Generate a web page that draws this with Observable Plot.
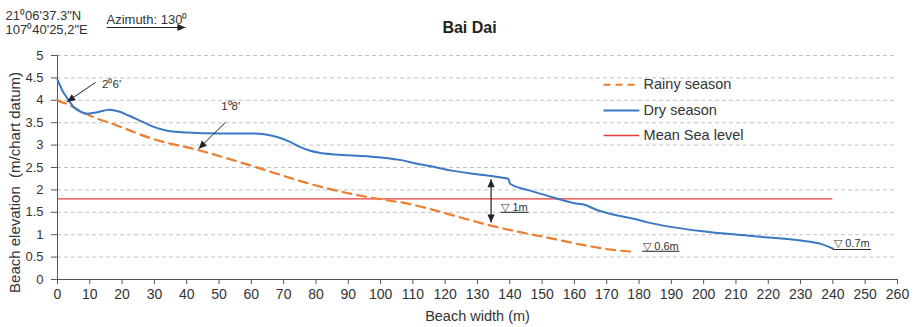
<!DOCTYPE html>
<html>
<head>
<meta charset="utf-8">
<script src="https://cdn.jsdelivr.net/npm/d3@7"></script>
<script src="https://cdn.jsdelivr.net/npm/@observablehq/plot@0.6"></script>
<style>
  body { margin: 0; background: #fff; }
  #chart svg { display: block; }
</style>
</head>
<body>
<div id="chart"></div>
<script>
// ---- data ----
const title = "Bai Dai";
const coordLines = ["21⁰06'37.3\"N", "107⁰40'25,2\"E"];
const azimuthLabel = "Azimuth: 130⁰";
const seriesNames = ["Rainy season", "Dry season", "Mean Sea level"];
const xLabel = "Beach width (m)";
const yLabel = "Beach elevation  (m/chart datum)";

const dryX = [0,1.5,3,5,7,9,12,16,19,22,26,30,34,40,50,60,64,68,72,75,78,81,86,96,106,111,116,122,131,137,139.5,140,140.5,146,154,159.5,161,162.5,167,172,178,183,199,215,230,236,240];
const dryY = [4.46,4.22,4.05,3.85,3.75,3.70,3.73,3.79,3.75,3.66,3.53,3.40,3.32,3.28,3.26,3.26,3.24,3.18,3.07,2.96,2.88,2.83,2.79,2.75,2.67,2.59,2.52,2.43,2.34,2.28,2.25,2.15,2.12,1.99,1.82,1.71,1.69,1.68,1.55,1.45,1.36,1.27,1.08,0.97,0.87,0.80,0.69];

const rainyX = [0,1.5,3,4,10,18,29,44,60,76,82,91,101,108,116,124,132,141,152,162,172,178];
const rainyY = [4.0,3.95,3.92,3.88,3.66,3.45,3.15,2.88,2.54,2.18,2.06,1.91,1.78,1.70,1.56,1.40,1.24,1.09,0.93,0.78,0.66,0.62];

const meanSeaLevel = 1.8;
const meanSeaLevelEnd = 240;

const slopeLabels = ["2⁰6'", "1⁰8'"];
const depthLabels = ["▽ 1m", "▽ 0.6m", "▽ 0.7m"];

const xTicks = d3.range(0, 261, 10);
const yTicks = d3.range(0, 5.001, 0.5).map(d => +d.toFixed(1));

// ---- build ----
const dry = dryX.map((x, i) => ({x, y: dryY[i]}));
const rainy = rainyX.map((x, i) => ({x, y: rainyY[i]}));

const BLUE = "#3b78c3", ORANGE = "#ed7d31", RED = "#f03a3a";

function headMarker(color, context) {
  const doc = (context && context.document) || document;
  const ns = "http://www.w3.org/2000/svg";
  const m = doc.createElementNS(ns, "marker");
  m.setAttribute("viewBox", "-10 -5 10 10");
  m.setAttribute("markerWidth", 9);
  m.setAttribute("markerHeight", 8);
  m.setAttribute("markerUnits", "userSpaceOnUse");
  m.setAttribute("orient", "auto-start-reverse");
  m.setAttribute("fill", color);
  m.setAttribute("stroke", "none");
  const p = doc.createElementNS(ns, "path");
  p.setAttribute("d", "M-10,-4.5L0,0L-10,4.5Z");
  m.appendChild(p);
  return m;
}

const legendY = [4.346, 3.772, 3.214];
const legendRows = seriesNames.map((name, i) => ({name, y: legendY[i]}));

const font = "'Liberation Sans', Arial, Helvetica, sans-serif";

const chart = Plot.plot({
  width: 915,
  height: 327,
  marginLeft: 57,
  marginRight: 18,
  marginTop: 55,
  marginBottom: 48,
  style: {fontFamily: font, fontSize: "13px", color: "#333", background: "#fff"},
  x: {domain: [0, 260]},
  y: {domain: [0, 5]},
  marks: [
    Plot.gridY(yTicks.filter(d => d > 0), {stroke: "#c4c4c4", strokeOpacity: 1, strokeDasharray: "4,3"}),
    Plot.axisY(yTicks, {tickSize: 6, tickPadding: 8, fontSize: 13, label: null, tickFormat: d => String(d), stroke: "#555"}),
    Plot.axisX(xTicks, {tickSize: 5, tickPadding: 5, fontSize: 14, label: null, tickFormat: d => String(d), stroke: "#555"}),
    Plot.ruleX([0], {stroke: "#555"}),
    Plot.ruleY([0], {stroke: "#555"}),
    Plot.ruleY([meanSeaLevel], {x1: 0, x2: meanSeaLevelEnd, stroke: RED, strokeWidth: 1.3}),
    Plot.line(rainy, {x: "x", y: "y", curve: "monotone-x", stroke: ORANGE, strokeWidth: 2.2, strokeDasharray: "9,6"}),
    Plot.line(dry, {x: "x", y: "y", curve: "monotone-x", stroke: BLUE, strokeWidth: 2}),

    // slope annotations
    Plot.link([{x1: 11.8, y1: 4.40, x2: 3.0, y2: 3.97}, {x1: 52, y1: 3.51, x2: 43.7, y2: 2.92}],
      {x1: "x1", y1: "y1", x2: "x2", y2: "y2", stroke: "#222", strokeWidth: 1, markerEnd: headMarker}),
    Plot.text([{t: slopeLabels[0], x: 13.8, y: 4.35}], {x: "x", y: "y", text: "t", textAnchor: "start", fontSize: 11.5, fill: "#333"}),
    Plot.text([{t: slopeLabels[1], x: 53.6, y: 3.86}], {x: "x", y: "y", text: "t", textAnchor: "middle", fontSize: 11.5, fill: "#333"}),

    // 1 m difference arrow
    Plot.link([{x1: 134.2, y1: 2.24, x2: 134.2, y2: 1.27}],
      {x1: "x1", y1: "y1", x2: "x2", y2: "y2", stroke: "#222", strokeWidth: 1.2, markerStart: headMarker, markerEnd: headMarker}),

    // depth labels with underline
    Plot.text([
      {t: depthLabels[0], x: 137.4, y: 1.61},
      {t: depthLabels[1], x: 181.3, y: 0.74},
      {t: depthLabels[2], x: 240.4, y: 0.80}
    ], {x: "x", y: "y", text: "t", textAnchor: "start", fontSize: 11, fill: "#333"}),
    Plot.link([
      {x1: 137.2, x2: 145.8, y: 1.50},
      {x1: 181.0, x2: 192.5, y: 0.63},
      {x1: 240.0, x2: 251.8, y: 0.67}
    ], {x1: "x1", x2: "x2", y1: "y", y2: "y", stroke: "#222", strokeWidth: 1}),

    // legend
    Plot.link([legendRows[0]], {x1: 169.0, x2: 180.1, y1: "y", y2: "y", stroke: ORANGE, strokeWidth: 2, strokeDasharray: "7,5"}),
    Plot.link([legendRows[1]], {x1: 169.0, x2: 180.1, y1: "y", y2: "y", stroke: BLUE, strokeWidth: 2}),
    Plot.link([legendRows[2]], {x1: 169.0, x2: 180.1, y1: "y", y2: "y", stroke: RED, strokeWidth: 1.3}),
    Plot.text(legendRows, {x: 181.4, y: "y", text: "name", textAnchor: "start", fontSize: 14.5, fill: "#333"}),

    // titles and header text
    Plot.text([title], {frameAnchor: "top", dx: -8, dy: -28, lineAnchor: "middle", textAnchor: "middle", fontSize: 16, fontWeight: "bold", fill: "#222"}),
    Plot.text([coordLines[0]], {frameAnchor: "top-left", dx: -52, dy: -40, lineAnchor: "middle", textAnchor: "start", fontSize: 13, fill: "#333"}),
    Plot.text([coordLines[1]], {frameAnchor: "top-left", dx: -52, dy: -25.5, lineAnchor: "middle", textAnchor: "start", fontSize: 13, fill: "#333"}),
    Plot.text([azimuthLabel], {frameAnchor: "top-left", dx: 49, dy: -36, lineAnchor: "middle", textAnchor: "start", fontSize: 13, fill: "#333"}),
    Plot.link([{x1: 15.2, x2: 39.6, y: 5.625}], {x1: "x1", x2: "x2", y1: "y", y2: "y", stroke: "#222", strokeWidth: 1.2, markerEnd: headMarker}),

    // axis titles
    Plot.text([xLabel], {frameAnchor: "bottom", dy: 37, lineAnchor: "middle", textAnchor: "middle", fontSize: 14.5, fill: "#333"}),
    Plot.text([yLabel], {frameAnchor: "left", dx: -42, dy: 15, rotate: -90, lineAnchor: "middle", textAnchor: "middle", fontSize: 15, fill: "#333"})
  ]
});

document.getElementById("chart").appendChild(chart);
</script>
</body>
</html>
